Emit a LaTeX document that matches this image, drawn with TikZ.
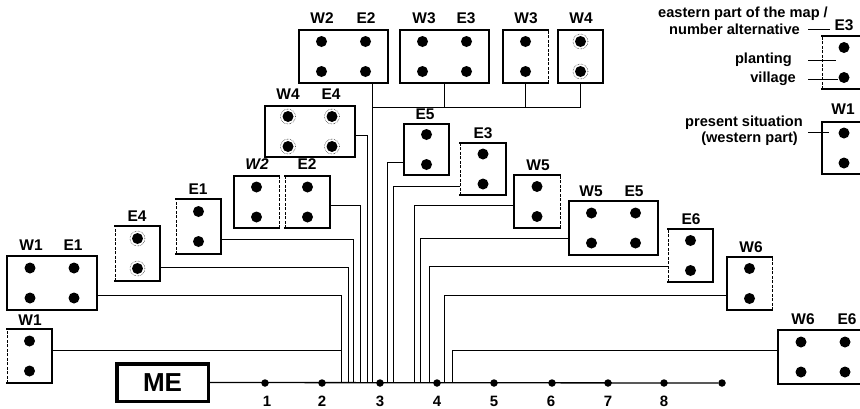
\documentclass[tikz,border=0pt]{standalone}
\usepackage{fontspec}
\setmainfont{Liberation Sans}
\tikzset{
  bline/.style={line width=2.4pt, line cap=rect, line join=miter},
  dline/.style={line width=0.8pt, dash pattern=on 3pt off 1.5pt},
  conn/.style={line width=0.9pt},
  mainline/.style={line width=1.3pt},
  lab/.style={font=\fontsize{15.5}{15.5}\selectfont\bfseries, inner sep=0pt},
  num/.style={font=\fontsize{15}{15}\selectfont\bfseries, inner sep=0pt},
  leg/.style={font=\fontsize{14.6}{15}\selectfont\bfseries, inner sep=0pt, anchor=east},
  station/.style={circle, fill, inner sep=0pt, minimum size=7.5pt},
  halo/.style={line width=0.5pt, densely dotted},
}
% #1 name, #2 x1, #3 y1, #4 x2, #5 y2, #6 dashed side: l, r or n
\newcommand\bx[6]{%
  \node[inner sep=0pt, outer sep=0pt, minimum width={(#4-#2)*1pt}, minimum height={(#5-#3)*1pt}] (#1) at ({(#2+#4)/2},{(#3+#5)/2}) {};
  \if#6l
    \draw[bline] (#1.north west) -- (#1.north east) -- (#1.south east) -- (#1.south west);
    \draw[dline] (#1.south west) -- (#1.north west);
  \else\if#6r
    \draw[bline] (#1.north east) -- (#1.north west) -- (#1.south west) -- (#1.south east);
    \draw[dline] (#1.south east) -- (#1.north east);
  \else
    \draw[bline] (#1.north west) rectangle (#1.south east);
  \fi\fi}
\newcommand\twodots[1]{%
  \fill ([yshift=15pt]#1.center) circle[radius=5.5pt];
  \fill ([yshift=-15pt]#1.center) circle[radius=5.5pt];}
\newcommand\fourdots[1]{%
  \foreach \dx in {-22,22}{\foreach \dy in {-15,15}{%
    \fill ([xshift=\dx pt,yshift=\dy pt]#1.center) circle[radius=5.5pt];}}}
\newcommand\twohalos[1]{%
  \draw[halo] ([yshift=15pt]#1.center) circle[radius=7.5pt];
  \draw[halo] ([yshift=-15pt]#1.center) circle[radius=7.5pt];}
\newcommand\fourhalos[1]{%
  \foreach \dx in {-22,22}{\foreach \dy in {-15,15}{%
    \draw[halo] ([xshift=\dx pt,yshift=\dy pt]#1.center) circle[radius=7.5pt];}}}
\begin{document}
\begin{tikzpicture}[x=1pt,y=-1pt]
\useasboundingbox (0,0) rectangle (860,408);

% ---------- main line ----------
\node[draw, line width=3.5pt, minimum width=91.5pt, minimum height=37.5pt, inner sep=0pt,
      font=\fontsize{26}{26}\selectfont\bfseries] (ME) at (162.5,382.5) {ME};
\node[station] (s1) at (265,383) {};
\node[station] (s2) at (322,383) {};
\node[station] (s3) at (380,383) {};
\node[station] (s4) at (437,383) {};
\node[station] (s5) at (494,383) {};
\node[station] (s6) at (552,383) {};
\node[station] (s7) at (608,383) {};
\node[station] (s8) at (664,383) {};
\node[station] (s9) at (722,383) {};
\draw[mainline] (ME.east) -- (s9);
\node[num] (n1) at (267,401) {1};
\node[num] (n2) at (322,401) {2};
\node[num] (n3) at (380,401) {3};
\node[num] (n4) at (437,401) {4};
\node[num] (n5) at (494,401) {5};
\node[num] (n6) at (551,401) {6};
\node[num] (n7) at (608,401) {7};
\node[num] (n8) at (664,401) {8};

% junctions on the main line
\foreach \jx in {341,348,353,360,367,372,387,393,414,420,429,444,452}{
  \coordinate (j\jx) at (\jx,383);}

% ---------- left boxes ----------
\bx{W1a}{7}{329}{52}{383}{l}   \twodots{W1a}
\node[lab] (lW1a) at (30,320) {W1};
\bx{W1E1}{7}{256}{97}{310}{n}  \fourdots{W1E1}
\node[lab] (lW1b) at (31,245) {W1};
\node[lab] (lE1b) at (73,245) {E1};
\bx{E4a}{115}{226}{160}{281}{l} \twodots{E4a} \twohalos{E4a}
\node[lab] (lE4a) at (137,216) {E4};
\bx{E1a}{176}{199}{221}{254}{l} \twodots{E1a}
\node[lab] (lE1a) at (198,189) {E1};
\bx{W2a}{234}{176}{279}{228}{r} \twodots{W2a}
\node[lab, font=\fontsize{15.5}{15.5}\selectfont\bfseries\itshape] (lW2a) at (257,164) {W2};
\bx{E2a}{285}{176}{330}{228}{l} \twodots{E2a}
\node[lab] (lE2a) at (307,164) {E2};
\bx{W4E4}{265}{106}{355}{157}{n} \fourdots{W4E4} \fourhalos{W4E4}
\node[lab] (lW4b) at (288,94) {W4};
\node[lab] (lE4b) at (331,94) {E4};

% ---------- top boxes ----------
\bx{W2E2}{299}{30}{388}{83}{n} \fourdots{W2E2}
\node[lab] (lW2t) at (322,18) {W2};
\node[lab] (lE2t) at (366,18) {E2};
\bx{W3E3}{400}{30}{489}{83}{n} \fourdots{W3E3}
\node[lab] (lW3t) at (424,18) {W3};
\node[lab] (lE3t) at (466,18) {E3};
\bx{W3a}{503}{30}{548}{83}{r} \twodots{W3a}
\node[lab] (lW3a) at (526,18) {W3};
\bx{W4a}{558}{30}{603}{83}{n} \twodots{W4a} \twohalos{W4a}
\node[lab] (lW4a) at (581,18) {W4};

% ---------- right boxes ----------
\bx{E5a}{404}{124}{449}{175}{n} \twodots{E5a}
\node[lab] (lE5a) at (425,114) {E5};
\bx{E3a}{460}{143}{506}{195}{l} \twodots{E3a}
\node[lab] (lE3a) at (483,133) {E3};
\bx{W5a}{514}{175}{560}{228}{r} \twodots{W5a}
\node[lab] (lW5a) at (538,165) {W5};
\bx{W5E5}{569}{201}{658}{255}{n} \fourdots{W5E5}
\node[lab] (lW5b) at (591,191) {W5};
\node[lab] (lE5b) at (634,191) {E5};
\bx{E6a}{668}{229}{713}{282}{l} \twodots{E6a}
\node[lab] (lE6a) at (691,219) {E6};
\bx{W6a}{727}{257}{772}{310}{r} \twodots{W6a}
\node[lab] (lW6a) at (751,247) {W6};
\bx{W6E6}{778}{330}{868}{384}{n} \fourdots{W6E6}
\node[lab] (lW6b) at (803,319) {W6};
\node[lab] (lE6b) at (847,319) {E6};

% ---------- connectors ----------
\draw[conn] ([yshift=6pt]W1a.east) -| (j341);
\draw[conn] ([yshift=-12pt]W1E1.east) -| (j341);
\draw[conn] ([yshift=-13.5pt]E4a.east) -| (j348);
\draw[conn] ([yshift=-12.5pt]E1a.east) -| (j353);
\draw[conn] ([yshift=-3pt]E2a.east) -| (j360);
\draw[conn] ([yshift=-3.5pt]W4E4.east) -| (j367);
\coordinate (bk) at (372,107);
\draw[conn] ([xshift=28.5pt]W2E2.south) -- (j372);
\draw[conn] (W4a.south) |- (bk);
\draw[conn] (W3a.south) -- (W3a.south |- bk);
\draw[conn] (W3E3.south) -- (W3E3.south |- bk);
\draw[conn] ([yshift=-12.5pt]E5a.west) -| (j387);
\draw[conn] ([yshift=-17pt]E3a.west) -| (j393);
\draw[conn] ([yshift=-3.5pt]W5a.west) -| (j414);
\draw[conn] ([yshift=-10pt]W5E5.west) -| (j420);
\draw[conn] ([yshift=-10.5pt]E6a.west) -| (j429);
\draw[conn] ([yshift=-11.5pt]W6a.west) -| (j444);
\draw[conn] ([yshift=7pt]W6E6.west) -| (j452);

% ---------- legend ----------
\bx{LE3}{822}{36}{866}{89}{l} \twodots{LE3}
\node[lab] (lLE3) at (844,25) {E3};
\bx{LW1}{822}{122}{866}{174}{n} \twodots{LW1}
\node[lab] (lLW1) at (843,109) {W1};
\node[leg] (t1) at (828,14) {eastern part of the map /};
\node[leg] (t2) at (800,29) {number alternative};
\node[leg] (t3) at (792,60) {planting};
\node[leg] (t4) at (796,79) {village};
\node[leg] (t5) at (803,123) {present situation};
\node[leg] (t6) at (798,139) {(western part)};
\coordinate (a2) at (830,29);
\coordinate (a3) at (836,60);
\coordinate (a4) at (838,79);
\coordinate (a5) at (829,132);
\draw[conn] ([xshift=8pt]t2.east) -- (a2);
\draw[conn] ([xshift=16pt]t3.east) -- (a3);
\draw[conn] ([xshift=12pt]t4.east) -- (a4);
\draw[conn] (808,132) -- (a5);
\end{tikzpicture}
\end{document}
